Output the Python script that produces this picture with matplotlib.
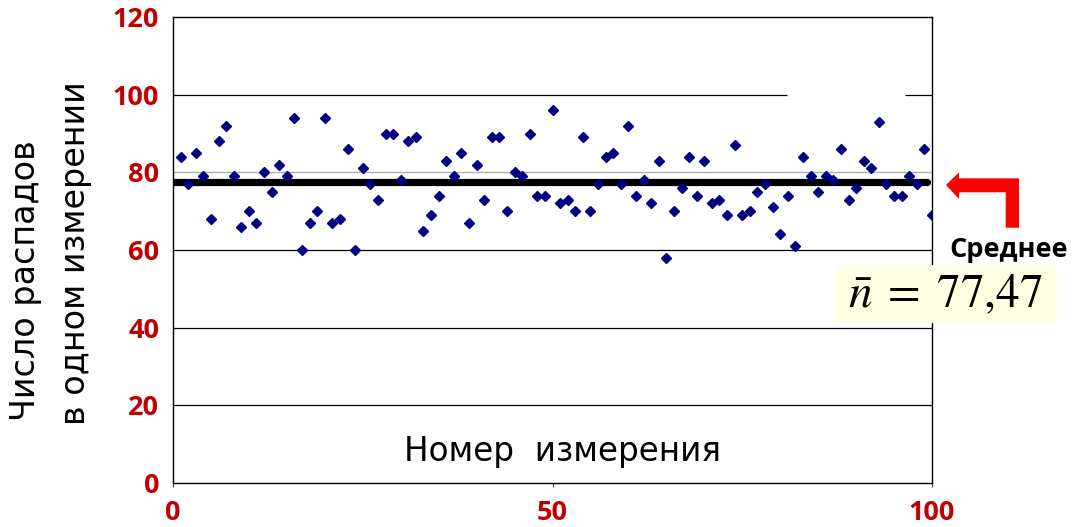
import numpy as np
import matplotlib
matplotlib.use("Agg")
import matplotlib.pyplot as plt
from matplotlib.patches import Polygon, Rectangle

counts = [84, 77, 85, 79, 68, 88, 92, 79, 66, 70,
          67, 80, 75, 82, 79, 94, 60, 67, 70, 94,
          67, 68, 86, 60, 81, 77, 73, 90, 90, 78,
          88, 89, 65, 69, 74, 83, 79, 85, 67, 82,
          73, 89, 89, 70, 80, 79, 90, 74, 74, 96,
          72, 73, 70, 89, 70, 77, 84, 85, 77, 92,
          74, 78, 72, 83, 58, 70, 76, 84, 74, 83,
          72, 73, 69, 87, 69, 70, 75, 77, 71, 64,
          74, 61, 84, 79, 75, 79, 78, 86, 73, 76,
          83, 81, 93, 77, 74, 74, 79, 77, 86, 69]
measure_no = np.arange(1, len(counts) + 1)
mean_value = 77.47

x_ticks = [0, 50, 100]
y_ticks = [0, 20, 40, 60, 80, 100, 120]

W, H = 1075, 527
fig = plt.figure(figsize=(W / 100, H / 100), dpi=100)
ax = fig.add_axes([173 / W, 1 - 483 / H, (932 - 173) / W, (483 - 17) / H])

red = '#C00000'

# grid lines (drawn by hand: 80 is grey, 100 has a gap)
for g in [20, 40, 60]:
    ax.axhline(g, color='black', lw=0.9, zorder=1)
ax.axhline(80, color='#B0B0B0', lw=1.0, zorder=1)
ax.hlines(100, 0, 80.9, color='black', lw=0.9, zorder=1)
ax.hlines(100, 96.4, 100, color='black', lw=0.9, zorder=1)

# mean line
ax.plot([0, 99.3], [mean_value, mean_value], color='black', lw=5.2,
        solid_capstyle='round', zorder=2)

ax.plot(measure_no, counts, linestyle='none', marker='D', ms=5.3,
        color='#000080', zorder=3)

ax.set_xlim(0, 100)
ax.set_ylim(0, 120)
ax.set_xticks(x_ticks)
ax.set_yticks(y_ticks)
for s in ax.spines.values():
    s.set_color('black')
    s.set_linewidth(1.0)
ax.tick_params(axis='x', length=3, width=0.8, pad=9, colors='#404040',
               labelcolor=red, labelsize=19.5)
ax.tick_params(axis='y', length=0, pad=10, labelcolor=red, labelsize=19.5)
for lab in ax.get_xticklabels() + ax.get_yticklabels():
    lab.set_fontweight('bold')
    lab.set_family('Open Sans')

# axis titles
fig.text(25 / W, 1 - 421 / H, 'Число распадов', rotation=90,
         rotation_mode='anchor', ha='left', va='center',
         fontsize=24, family='DejaVu Sans')
fig.text(76 / W, 1 - 425 / H, 'в одном измерении', rotation=90,
         rotation_mode='anchor', ha='left', va='center',
         fontsize=24, family='DejaVu Sans')
fig.text(563 / W, 1 - 452 / H, 'Номер  измерения', ha='center', va='center',
         fontsize=23.5, family='DejaVu Sans')

# bent red arrow pointing at the mean line
arrow_px = [(946, 185), (959, 172.3), (959, 178.3), (1019, 178.3),
            (1019, 227.7), (1005.7, 227.7), (1005.7, 192.3), (959, 192.3),
            (959, 199)]
arrow = Polygon([(x / W, 1 - y / H) for x, y in arrow_px], closed=True,
                facecolor='#FF0000', edgecolor='none',
                transform=fig.transFigure)
fig.patches.append(arrow)

fig.text(1009 / W, 1 - 250 / H, 'Среднее', ha='center', va='center',
         fontsize=19.5, fontweight='bold', family='Open Sans')

box = Rectangle((835 / W, 1 - 323 / H), 222 / W, 58 / H, facecolor='#FFFFE3',
                edgecolor='none', transform=fig.transFigure)
fig.patches.append(box)
plt.rcParams['mathtext.fontset'] = 'stix'
fig.text(945 / W, 1 - 295 / H, r'$\bar{n}\;=\;77{,}47$', ha='center',
         va='center', fontsize=34)

fig.savefig('out.png', dpi=100)
